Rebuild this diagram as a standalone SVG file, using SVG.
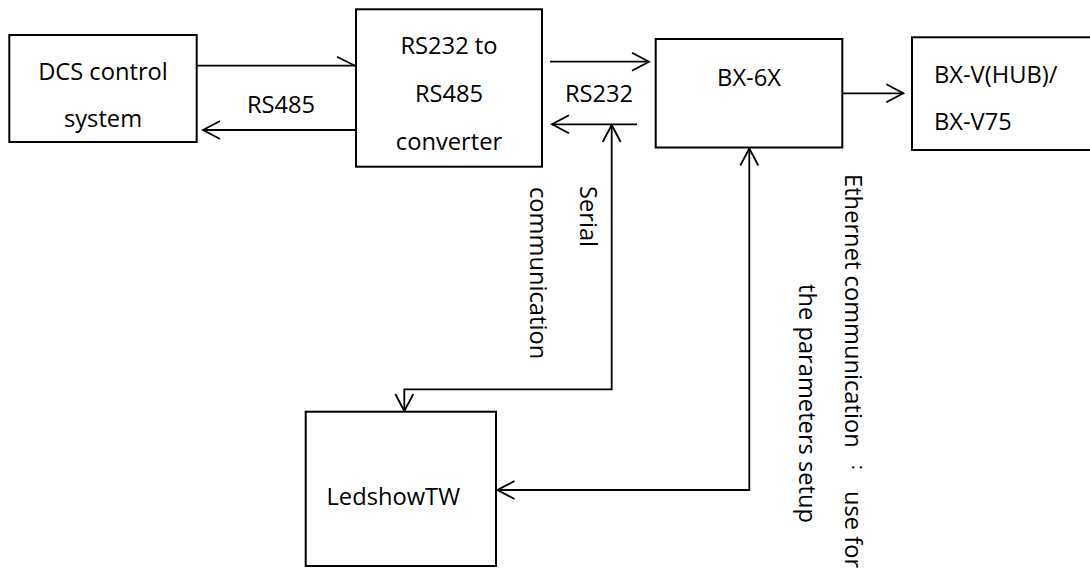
<svg xmlns="http://www.w3.org/2000/svg" width="1090" height="569" viewBox="0 0 1090 569">
  <style>
    .box { fill: #fff; stroke: #000; stroke-width: 2; }
    .lbl { font-family: "Open Sans", "Noto Sans", "Noto Sans CJK SC", sans-serif; font-size: 23.7px; fill: #000; }
    .mid { text-anchor: middle; }
    .ln { fill: none; stroke: #000; stroke-width: 1.8; }
    .arr { marker-end: url(#arr); }
    .arr2 { marker-start: url(#arr); marker-end: url(#arr); }
    .half { marker-end: url(#half); }
  </style>
  <defs>
    <marker id="arr" viewBox="-19 -11 22 22" refX="0" refY="0" markerWidth="22" markerHeight="22" markerUnits="userSpaceOnUse" orient="auto-start-reverse">
      <path d="M-17,-9 L0,0 L-17,9" fill="none" stroke="#000" stroke-width="1.8"/>
    </marker>
    <marker id="half" viewBox="-19 -11 22 22" refX="0" refY="0" markerWidth="22" markerHeight="22" markerUnits="userSpaceOnUse" orient="auto">
      <path d="M-18,-9 L0,0" fill="none" stroke="#000" stroke-width="1.8"/>
    </marker>
  </defs>
  <rect width="1090" height="569" fill="#fff"/>

  <g id="connectors">
    <line class="ln half" x1="197" y1="65.7" x2="355" y2="65.7"/>
    <line class="ln arr" x1="355" y1="130" x2="203" y2="130"/>
    <text class="lbl mid" x="281" y="113.3">RS485</text>
    <line class="ln arr" x1="550" y1="61.7" x2="649" y2="61.7"/>
    <line class="ln arr" x1="637" y1="124.3" x2="552" y2="124.3"/>
    <text class="lbl mid" x="599" y="101.7">RS232</text>
    <polyline class="ln arr2" points="611.7,125 611.7,389.3 404.3,389.3 404.3,411"/>
    <polyline class="ln arr2" points="749.3,148.5 749.3,490 497.5,490"/>
    <line class="ln arr" x1="843" y1="93.3" x2="903.3" y2="93.3"/>
    <text class="lbl" transform="translate(580,186) rotate(90)">Serial</text>
    <text class="lbl" transform="translate(530,187) rotate(90)">communication</text>
    <text class="lbl" transform="translate(845,174) rotate(90)"><tspan x="0">Ethernet communication</tspan><tspan x="291" dy="-7" font-size="18px">:</tspan><tspan x="317" dy="7">use for</tspan></text>
    <text class="lbl" transform="translate(799,284) rotate(90)">the parameters setup</text>
  </g>

  <g id="dcs">
    <rect class="box" x="9.3" y="35" width="187.4" height="107"/>
    <text class="lbl mid" x="103" y="80">DCS control</text>
    <text class="lbl mid" x="103" y="127">system</text>
  </g>

  <g id="converter">
    <rect class="box" x="356" y="9.3" width="186" height="157.4"/>
    <text class="lbl mid" x="449" y="54.3">RS232 to</text>
    <text class="lbl mid" x="449" y="101.7">RS485</text>
    <text class="lbl mid" x="449" y="150">converter</text>
  </g>

  <g id="bx6x">
    <rect class="box" x="655.7" y="39" width="186.6" height="108.5"/>
    <text class="lbl mid" x="749" y="85.5">BX-6X</text>
  </g>

  <g id="bxv">
    <rect class="box" x="912" y="37.3" width="190" height="112.7"/>
    <text class="lbl" x="934" y="82.7">BX-V(HUB)/</text>
    <text class="lbl" x="934" y="130">BX-V75</text>
  </g>

  <g id="ledshow">
    <rect class="box" x="305.7" y="411.7" width="190.3" height="154.3"/>
    <text class="lbl" x="326.5" y="505">LedshowTW</text>
  </g>
</svg>
